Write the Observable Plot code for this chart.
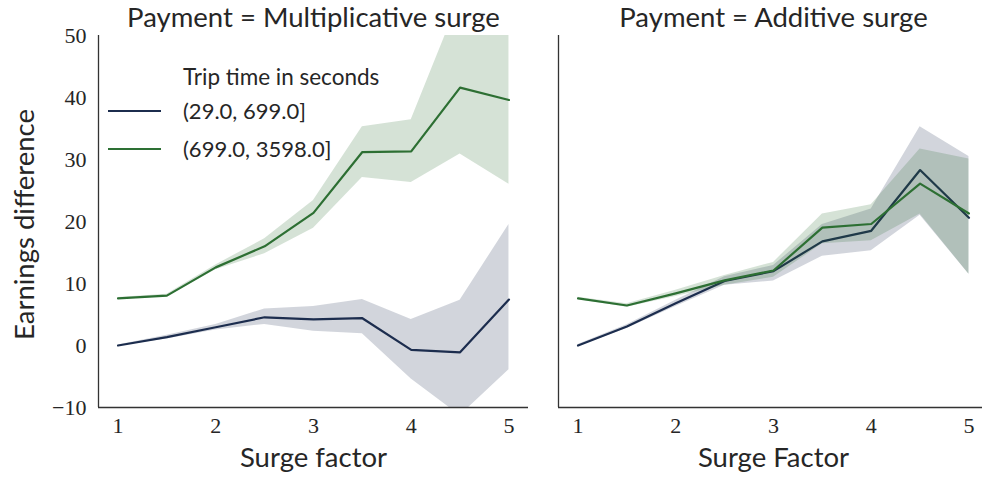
<!DOCTYPE html>
<html>
<head>
<meta charset="utf-8">
<script src="https://cdn.jsdelivr.net/npm/d3@7"></script>
<script src="https://cdn.jsdelivr.net/npm/@observablehq/plot@0.6"></script>
<style>
  html, body { margin: 0; padding: 0; background: #fff; overflow: hidden; }
  #chart { position: relative; width: 982px; height: 478px; overflow: hidden; }
  #chart > svg, #chart > div { position: absolute; top: 0; }
  .legend { font-family: Lato, "DejaVu Sans", sans-serif; color: #262626; }
</style>
</head>
<body>
<div id="chart"></div>
<script>
// ---- data ----
const surge = [1, 1.5, 2, 2.5, 3, 3.5, 4, 4.5, 5];
const xTicks = [1, 2, 3, 4, 5];
const yTicks = [-10, 0, 10, 20, 30, 40, 50];
const seriesNames = ["(29.0, 699.0]", "(699.0, 3598.0]"];
const panelTitles = ["Payment = Multiplicative surge", "Payment = Additive surge"];
const xLabels = ["Surge factor", "Surge Factor"];
const yLabel = "Earnings difference";
const legendTitle = "Trip time in seconds";

// Multiplicative surge
const multShortMean = [0.0, 1.35, 2.95, 4.55, 4.2, 4.4, -0.7, -1.1, 7.4];
const multShortLo   = [-0.1, 1.05, 2.5, 3.4, 2.3, 1.9, -5.4, -11.3, -3.9];
const multShortHi   = [0.1, 1.65, 3.4, 5.9, 6.3, 7.4, 4.2, 7.3, 19.5];
const multLongMean  = [7.6, 8.05, 12.6, 16.0, 21.4, 31.2, 31.3, 41.6, 39.6];
const multLongLo    = [7.45, 7.85, 12.2, 14.8, 18.9, 27.1, 26.3, 30.9, 26.0];
const multLongHi    = [7.75, 8.25, 13.0, 17.2, 23.4, 35.3, 36.4, 56.0, 58.0];

// Additive surge
const addShortMean = [0.0, 3.05, 6.8, 10.4, 12.0, 16.8, 18.5, 28.3, 20.6];
const addShortLo   = [-0.15, 2.75, 6.3, 9.7, 10.4, 14.4, 15.3, 21.0, 11.5];
const addShortHi   = [0.15, 3.35, 7.3, 11.1, 12.9, 19.5, 22.0, 35.3, 30.5];
const addLongMean  = [7.6, 6.45, 8.4, 10.5, 12.1, 19.0, 19.6, 26.1, 21.3];
const addLongLo    = [7.4, 6.15, 7.9, 9.7, 11.0, 16.4, 16.9, 21.2, 11.5];
const addLongHi    = [7.8, 6.75, 8.9, 11.3, 13.4, 21.2, 22.7, 31.7, 30.1];

const colors = ["#1c2d4e", "#2d7034"];
const xDomain = [0.8, 5.2];
const yDomain = [-10, 50];

const sans = "Lato, 'DejaVu Sans', sans-serif";
const serif = "'Liberation Serif', 'DejaVu Serif', serif";

function rows(mean, lo, hi) {
  return surge.map((x, i) => ({x, mean: mean[i], lo: lo[i], hi: hi[i]}));
}

const panels = [
  [rows(multShortMean, multShortLo, multShortHi), rows(multLongMean, multLongLo, multLongHi)],
  [rows(addShortMean, addShortLo, addShortHi), rows(addLongMean, addLongLo, addLongHi)]
];

function makePanel(p) {
  const left = p === 0;
  const marks = [];
  panels[p].forEach((data, s) => {
    marks.push(Plot.lineY(data, {x: "x", y: "mean", stroke: colors[s], strokeWidth: 2.2, clip: true}));
    marks.push(Plot.areaY(data, {x: "x", y1: "lo", y2: "hi", fill: colors[s], fillOpacity: 0.2, clip: true}));
  });
  marks.push(Plot.ruleX([xDomain[0]], {stroke: "#333", strokeWidth: 1.3}));
  marks.push(Plot.ruleY([yDomain[0]], {stroke: "#333", strokeWidth: 1.3}));
  marks.push(Plot.text([panelTitles[p]], {text: d => d, frameAnchor: "top", lineAnchor: "middle", textAnchor: "middle", dy: -17, fontSize: 27.5, fontFamily: sans, fill: "#262626"}));
  marks.push(Plot.text([xLabels[p]], {text: d => d, frameAnchor: "bottom", lineAnchor: "middle", textAnchor: "middle", dy: 51, fontSize: 27.5, fontFamily: sans, fill: "#262626"}));
  if (left) {
    marks.push(Plot.text([yLabel], {text: d => d, frameAnchor: "left", lineAnchor: "middle", textAnchor: "middle", rotate: -90, dx: -73.5, dy: 3, fontSize: 27.5, fontFamily: sans, fill: "#262626"}));
  }
  return Plot.plot({
    width: left ? 540 : 448,
    height: 478,
    marginLeft: left ? 98 : 18,
    marginRight: left ? 12 : 0,
    marginTop: 35,
    marginBottom: 71,
    style: {fontFamily: serif, fontSize: "22px", color: "#262626", background: "transparent", overflow: "visible"},
    x: {domain: xDomain, ticks: xTicks, tickSize: 0, tickPadding: 10, label: null, tickFormat: d3.format("d")},
    y: {domain: yDomain, ticks: yTicks, tickSize: 0, tickPadding: 12, label: null, axis: left ? "left" : null,
        tickFormat: d => d < 0 ? "\u2212" + Math.abs(d) : String(d)},
    marks
  });
}

const chart = document.getElementById("chart");
const svgL = makePanel(0);
svgL.style.left = "0px";
chart.appendChild(svgL);
const svgR = makePanel(1);
svgR.style.left = "540px";
chart.appendChild(svgR);

// legend
const legend = d3.select(chart).append("div").attr("class", "legend")
  .style("left", "0px").style("top", "0px").style("width", "420px").style("height", "170px");
legend.append("div").text(legendTitle)
  .style("position", "absolute").style("left", "183px").style("top", "63px")
  .style("font-size", "22.5px").style("white-space", "nowrap");
seriesNames.forEach((name, i) => {
  const top = 111 + i * 38;
  legend.append("div")
    .style("position", "absolute").style("left", "108px").style("top", (top - 1) + "px")
    .style("width", "53px").style("height", "2.2px").style("background", colors[i]);
  legend.append("div").text(name)
    .style("position", "absolute").style("left", "183px").style("top", (top - 14) + "px")
    .style("font-size", "22px").style("white-space", "nowrap");
});
</script>
</body>
</html>
